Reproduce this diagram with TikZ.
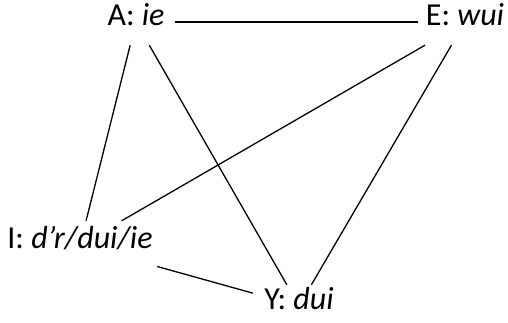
\documentclass[tikz,border=0pt]{standalone}
\usepackage{fontspec}
\setmainfont{Carlito}
\begin{document}
\begin{tikzpicture}[x=1pt,y=-1pt,
  lbl/.style={inner sep=0pt, font=\fontsize{32}{38}\selectfont, text height=0.62em, text depth=0pt},
  edge/.style={draw=black, line width=1.3pt}]
\useasboundingbox (0,0) rectangle (508,323);
\node[lbl, minimum width=78pt, minimum height=46pt] (A) at (136,22) {A: \textit{ie}};
\node[lbl, minimum width=94pt, minimum height=46pt] (E) at (465,22) {E: \textit{wui}};
\node[lbl, minimum width=154pt, minimum height=48pt] (I) at (80,245) {I: \textit{d’r/dui/ie}};
\node[lbl, minimum width=92pt, minimum height=42pt] (Y) at (299,306) {Y: \textit{dui}};
\draw[edge] (A) -- (E);
\draw[edge] (A) -- (I);
\draw[edge] (A) -- (Y);
\draw[edge] (E) -- (I);
\draw[edge] (E) -- (Y);
\draw[edge] (I) -- (Y);
\end{tikzpicture}
\end{document}
